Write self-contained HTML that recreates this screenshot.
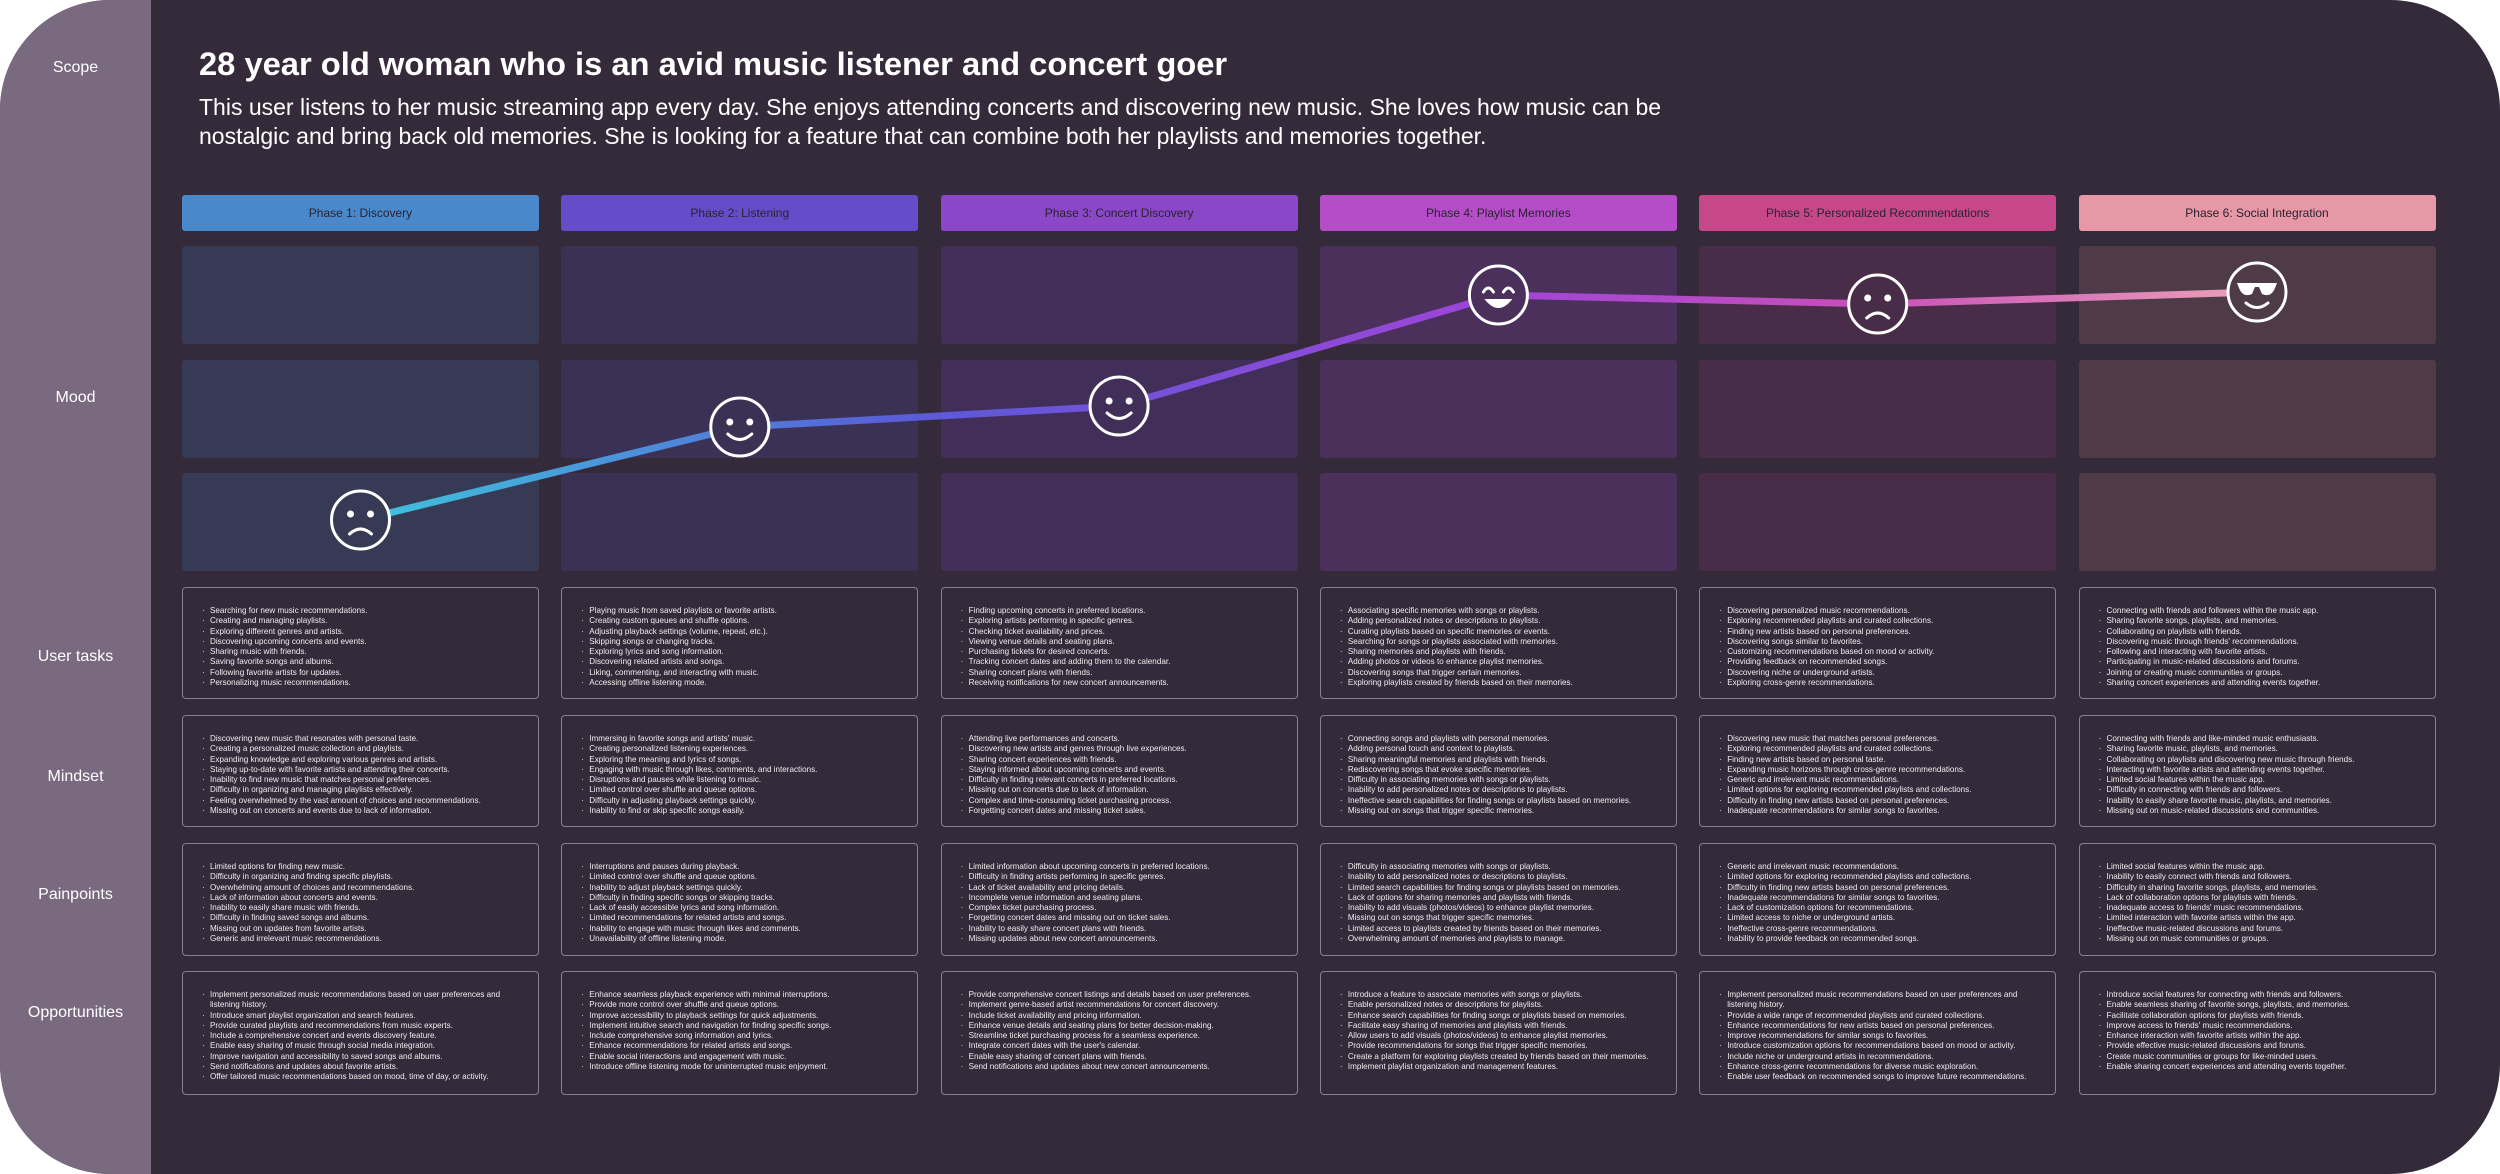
<!DOCTYPE html>
<html><head><meta charset="utf-8">
<style>
*{margin:0;padding:0;box-sizing:border-box}
body{width:2500px;height:1174px;background:#fff;overflow:hidden;font-family:"Liberation Sans",sans-serif}
#frame{position:absolute;left:0;top:0;width:2500px;height:1174px;border-radius:110px;background:#352a3a;overflow:hidden}
#side{position:absolute;left:0;top:0;width:151px;height:1174px;background:#7a6a80}
.lab{position:absolute;left:0;width:151px;text-align:center;color:#fff;font-size:16px}
#title{position:absolute;left:199px;top:45px;color:#fff;font-size:32.7px;font-weight:bold;white-space:nowrap}
#sub{position:absolute;left:199px;top:93px;color:#fff;font-size:23px;line-height:29px;white-space:nowrap}
.phase{position:absolute;top:195px;height:36px;width:357px;border-radius:3px;text-align:center;line-height:36px;font-size:12px;color:#2a2230}
.cell{position:absolute;width:357px;border-radius:3px}
.box{position:absolute;width:357px;border:1.5px solid #8a7f90;border-radius:4px;padding:18px 10px 0 20px;color:#eee;font-size:8.1px;line-height:10.3px}
.box ul{list-style:none}
.box li{position:relative;padding-left:7px}
.box li:before{content:"·";position:absolute;left:-1px}
svg{position:absolute;left:0;top:0}
</style></head>
<body>
<div id="frame">
 <div id="side"></div>
 <div class="lab" style="top:59px">Scope</div>
 <div class="lab" style="top:389px">Mood</div>
 <div class="lab" style="top:648px">User tasks</div>
 <div class="lab" style="top:768px">Mindset</div>
 <div class="lab" style="top:886px">Painpoints</div>
 <div class="lab" style="top:1004px">Opportunities</div>
 <div id="title">28 year old woman who is an avid music listener and concert goer</div>
 <div id="sub">This user listens to her music streaming app every day. She enjoys attending concerts and discovering new music. She loves how music can be<br>nostalgic and bring back old memories. She is looking for a feature that can combine both her playlists and memories together.</div>
 <div id="grid"></div>
 <svg id="chart" width="2500" height="1174"></svg>
</div>
<script>
const phases=["Phase 1: Discovery","Phase 2: Listening","Phase 3: Concert Discovery","Phase 4: Playlist Memories","Phase 5: Personalized Recommendations","Phase 6: Social Integration"];
const moodScores=[2.0,5.1,5.8,9.5,9.2,9.6];
const moodFaces=["sad","smile","smile","grin","sad","cool"];
const userTasks=[
["Searching for new music recommendations.","Creating and managing playlists.","Exploring different genres and artists.","Discovering upcoming concerts and events.","Sharing music with friends.","Saving favorite songs and albums.","Following favorite artists for updates.","Personalizing music recommendations."],
["Playing music from saved playlists or favorite artists.","Creating custom queues and shuffle options.","Adjusting playback settings (volume, repeat, etc.).","Skipping songs or changing tracks.","Exploring lyrics and song information.","Discovering related artists and songs.","Liking, commenting, and interacting with music.","Accessing offline listening mode."],
["Finding upcoming concerts in preferred locations.","Exploring artists performing in specific genres.","Checking ticket availability and prices.","Viewing venue details and seating plans.","Purchasing tickets for desired concerts.","Tracking concert dates and adding them to the calendar.","Sharing concert plans with friends.","Receiving notifications for new concert announcements."],
["Associating specific memories with songs or playlists.","Adding personalized notes or descriptions to playlists.","Curating playlists based on specific memories or events.","Searching for songs or playlists associated with memories.","Sharing memories and playlists with friends.","Adding photos or videos to enhance playlist memories.","Discovering songs that trigger certain memories.","Exploring playlists created by friends based on their memories."],
["Discovering personalized music recommendations.","Exploring recommended playlists and curated collections.","Finding new artists based on personal preferences.","Discovering songs similar to favorites.","Customizing recommendations based on mood or activity.","Providing feedback on recommended songs.","Discovering niche or underground artists.","Exploring cross-genre recommendations."],
["Connecting with friends and followers within the music app.","Sharing favorite songs, playlists, and memories.","Collaborating on playlists with friends.","Discovering music through friends' recommendations.","Following and interacting with favorite artists.","Participating in music-related discussions and forums.","Joining or creating music communities or groups.","Sharing concert experiences and attending events together."]];
const mindset=[
["Discovering new music that resonates with personal taste.","Creating a personalized music collection and playlists.","Expanding knowledge and exploring various genres and artists.","Staying up-to-date with favorite artists and attending their concerts.","Inability to find new music that matches personal preferences.","Difficulty in organizing and managing playlists effectively.","Feeling overwhelmed by the vast amount of choices and recommendations.","Missing out on concerts and events due to lack of information."],
["Immersing in favorite songs and artists' music.","Creating personalized listening experiences.","Exploring the meaning and lyrics of songs.","Engaging with music through likes, comments, and interactions.","Disruptions and pauses while listening to music.","Limited control over shuffle and queue options.","Difficulty in adjusting playback settings quickly.","Inability to find or skip specific songs easily."],
["Attending live performances and concerts.","Discovering new artists and genres through live experiences.","Sharing concert experiences with friends.","Staying informed about upcoming concerts and events.","Difficulty in finding relevant concerts in preferred locations.","Missing out on concerts due to lack of information.","Complex and time-consuming ticket purchasing process.","Forgetting concert dates and missing ticket sales."],
["Connecting songs and playlists with personal memories.","Adding personal touch and context to playlists.","Sharing meaningful memories and playlists with friends.","Rediscovering songs that evoke specific memories.","Difficulty in associating memories with songs or playlists.","Inability to add personalized notes or descriptions to playlists.","Ineffective search capabilities for finding songs or playlists based on memories.","Missing out on songs that trigger specific memories."],
["Discovering new music that matches personal preferences.","Exploring recommended playlists and curated collections.","Finding new artists based on personal taste.","Expanding music horizons through cross-genre recommendations.","Generic and irrelevant music recommendations.","Limited options for exploring recommended playlists and collections.","Difficulty in finding new artists based on personal preferences.","Inadequate recommendations for similar songs to favorites."],
["Connecting with friends and like-minded music enthusiasts.","Sharing favorite music, playlists, and memories.","Collaborating on playlists and discovering new music through friends.","Interacting with favorite artists and attending events together.","Limited social features within the music app.","Difficulty in connecting with friends and followers.","Inability to easily share favorite music, playlists, and memories.","Missing out on music-related discussions and communities."]];
const painpoints=[
["Limited options for finding new music.","Difficulty in organizing and finding specific playlists.","Overwhelming amount of choices and recommendations.","Lack of information about concerts and events.","Inability to easily share music with friends.","Difficulty in finding saved songs and albums.","Missing out on updates from favorite artists.","Generic and irrelevant music recommendations."],
["Interruptions and pauses during playback.","Limited control over shuffle and queue options.","Inability to adjust playback settings quickly.","Difficulty in finding specific songs or skipping tracks.","Lack of easily accessible lyrics and song information.","Limited recommendations for related artists and songs.","Inability to engage with music through likes and comments.","Unavailability of offline listening mode."],
["Limited information about upcoming concerts in preferred locations.","Difficulty in finding artists performing in specific genres.","Lack of ticket availability and pricing details.","Incomplete venue information and seating plans.","Complex ticket purchasing process.","Forgetting concert dates and missing out on ticket sales.","Inability to easily share concert plans with friends.","Missing updates about new concert announcements."],
["Difficulty in associating memories with songs or playlists.","Inability to add personalized notes or descriptions to playlists.","Limited search capabilities for finding songs or playlists based on memories.","Lack of options for sharing memories and playlists with friends.","Inability to add visuals (photos/videos) to enhance playlist memories.","Missing out on songs that trigger specific memories.","Limited access to playlists created by friends based on their memories.","Overwhelming amount of memories and playlists to manage."],
["Generic and irrelevant music recommendations.","Limited options for exploring recommended playlists and collections.","Difficulty in finding new artists based on personal preferences.","Inadequate recommendations for similar songs to favorites.","Lack of customization options for recommendations.","Limited access to niche or underground artists.","Ineffective cross-genre recommendations.","Inability to provide feedback on recommended songs."],
["Limited social features within the music app.","Inability to easily connect with friends and followers.","Difficulty in sharing favorite songs, playlists, and memories.","Lack of collaboration options for playlists with friends.","Inadequate access to friends' music recommendations.","Limited interaction with favorite artists within the app.","Ineffective music-related discussions and forums.","Missing out on music communities or groups."]];
const opportunities=[
["Implement personalized music recommendations based on user preferences and listening history.","Introduce smart playlist organization and search features.","Provide curated playlists and recommendations from music experts.","Include a comprehensive concert and events discovery feature.","Enable easy sharing of music through social media integration.","Improve navigation and accessibility to saved songs and albums.","Send notifications and updates about favorite artists.","Offer tailored music recommendations based on mood, time of day, or activity."],
["Enhance seamless playback experience with minimal interruptions.","Provide more control over shuffle and queue options.","Improve accessibility to playback settings for quick adjustments.","Implement intuitive search and navigation for finding specific songs.","Include comprehensive song information and lyrics.","Enhance recommendations for related artists and songs.","Enable social interactions and engagement with music.","Introduce offline listening mode for uninterrupted music enjoyment."],
["Provide comprehensive concert listings and details based on user preferences.","Implement genre-based artist recommendations for concert discovery.","Include ticket availability and pricing information.","Enhance venue details and seating plans for better decision-making.","Streamline ticket purchasing process for a seamless experience.","Integrate concert dates with the user's calendar.","Enable easy sharing of concert plans with friends.","Send notifications and updates about new concert announcements."],
["Introduce a feature to associate memories with songs or playlists.","Enable personalized notes or descriptions for playlists.","Enhance search capabilities for finding songs or playlists based on memories.","Facilitate easy sharing of memories and playlists with friends.","Allow users to add visuals (photos/videos) to enhance playlist memories.","Provide recommendations for songs that trigger specific memories.","Create a platform for exploring playlists created by friends based on their memories.","Implement playlist organization and management features."],
["Implement personalized music recommendations based on user preferences and listening history.","Provide a wide range of recommended playlists and curated collections.","Enhance recommendations for new artists based on personal preferences.","Improve recommendations for similar songs to favorites.","Introduce customization options for recommendations based on mood or activity.","Include niche or underground artists in recommendations.","Enhance cross-genre recommendations for diverse music exploration.","Enable user feedback on recommended songs to improve future recommendations."],
["Introduce social features for connecting with friends and followers.","Enable seamless sharing of favorite songs, playlists, and memories.","Facilitate collaboration options for playlists with friends.","Improve access to friends' music recommendations.","Enhance interaction with favorite artists within the app.","Provide effective music-related discussions and forums.","Create music communities or groups for like-minded users.","Enable sharing concert experiences and attending events together."]];

const phaseColors=["#4a88cc","#654cc9","#8a48c8","#b54dc9","#c6478a","#e698a6"];
const cellColors=["#363a55","#3b3154","#412f59","#4b305c","#482c48","#4f3a48"];
const colX=i=>182+i*379.3;
const colCX=i=>colX(i)+178.5;
const moodY=v=>580-v*30;
const grid=document.getElementById('grid');
const rows=[[userTasks,587,112,'user-tasks'],[mindset,715,112,'mindset'],[painpoints,843,113,'painpoints'],[opportunities,971,124,'opportunities']];
phases.forEach((p,i)=>{
  const h=document.createElement('div');
  h.className='phase';
  h.style.left=colX(i)+'px';h.style.background=phaseColors[i];
  h.textContent=p;
  
  
  grid.appendChild(h);
  [246,360,473].forEach((t,k)=>{
    const c=document.createElement('div');
    c.className='cell';
    c.style.left=colX(i)+'px';c.style.top=t+'px';c.style.height='98px';c.style.background=cellColors[i];
    
    
    grid.appendChild(c);
  });
  rows.forEach(r=>{
    const b=document.createElement('div');
    b.className='box';
    b.style.left=colX(i)+'px';b.style.top=r[1]+'px';b.style.height=r[2]+'px';
    
    
    const ul=document.createElement('ul');
    r[0][i].forEach(t=>{const li=document.createElement('li');li.textContent=t;ul.appendChild(li);});
    b.appendChild(ul);
    grid.appendChild(b);
  });
});
const NS='http://www.w3.org/2000/svg';
const svg=document.getElementById('chart');
const defs=document.createElementNS(NS,'defs');
defs.innerHTML='<linearGradient id="lg" x1="348" y1="0" x2="2253" y2="0" gradientUnits="userSpaceOnUse"><stop offset="0" stop-color="#3ec6dc"/><stop offset="0.3" stop-color="#5a5ad8"/><stop offset="0.6" stop-color="#a044d8"/><stop offset="0.8" stop-color="#c850b8"/><stop offset="1" stop-color="#eaa0b8"/></linearGradient>';
svg.appendChild(defs);
const pts=moodScores.map((v,i)=>[colCX(i),moodY(v)]);
const line=document.createElementNS(NS,'polyline');
line.setAttribute('points',pts.map(p=>p.join(',')).join(' '));
line.setAttribute('fill','none');line.setAttribute('stroke','url(#lg)');line.setAttribute('stroke-width','7');line.setAttribute('stroke-linejoin','round');


svg.appendChild(line);
pts.forEach((p,i)=>{
  const g=document.createElementNS(NS,'g');
  g.setAttribute('transform','translate('+p[0]+','+p[1]+')');
  
  
  const f=moodFaces[i];
  let s='<circle r="29" fill="'+cellColors[i]+'" stroke="#fff" stroke-width="3"/>';
  if(f==='sad') s+='<circle cx="-10" cy="-6" r="3.5" fill="#fff"/><circle cx="10" cy="-6" r="3.5" fill="#fff"/><path d="M-11,14 Q0,4 11,14" stroke="#fff" stroke-width="3" fill="none" stroke-linecap="round"/>';
  if(f==='smile') s+='<circle cx="-10" cy="-5" r="3.5" fill="#fff"/><circle cx="10" cy="-5" r="3.5" fill="#fff"/><path d="M-12,7 Q0,18 12,7" stroke="#fff" stroke-width="3" fill="none" stroke-linecap="round"/>';
  if(f==='grin') s+='<path d="M-15,-3 Q-10,-11 -5,-3 M5,-3 Q10,-11 15,-3" stroke="#fff" stroke-width="3" fill="none" stroke-linecap="round"/><path d="M-14,4 L14,4 Q0,22 -14,4Z" fill="#fff"/>';
  if(f==='cool') s+='<path d="M-20,-9 L20,-9 L18,-4 Q14,6 5,2 L2,-5 L-2,-5 L-5,2 Q-14,6 -18,-4Z" fill="#fff"/><path d="M-11,11 Q0,20 11,11" stroke="#fff" stroke-width="3" fill="none" stroke-linecap="round"/>';
  g.innerHTML=s;
  svg.appendChild(g);
});
</script>
</body></html>
